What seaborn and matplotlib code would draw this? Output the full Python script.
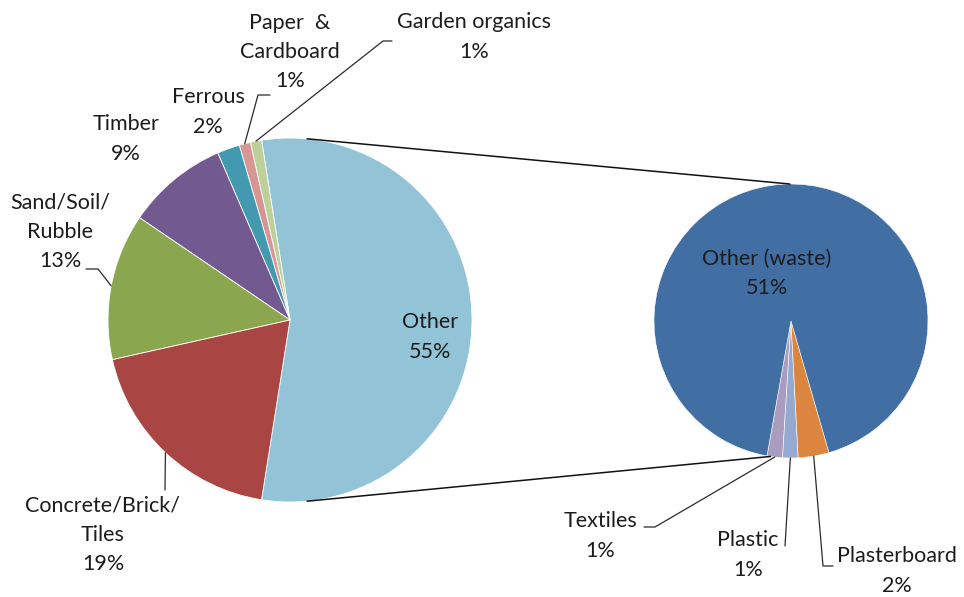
import numpy as np
import matplotlib
matplotlib.use("Agg")
import matplotlib.pyplot as plt
import seaborn as sns

sns.set_theme(style="white")
plt.rcParams["font.family"] = ["Lato", "DejaVu Sans"]

# Main pie: composition of waste (%)
main_labels = ["Other", "Garden organics", "Paper  &\nCardboard", "Ferrous",
               "Timber", "Sand/Soil/\nRubble", "Concrete/Brick/\nTiles"]
main_values = [55, 1, 1, 2, 9, 13, 19]
main_colors = ["#93C3D6", "#BCD19A", "#D79594", "#4399B0",
               "#72598F", "#8AA64F", "#A94543"]

# Breakdown of "Other" (%)
sub_labels = ["Textiles", "Plastic", "Plasterboard", "Other (waste)"]
sub_values = [1, 1, 2, 51]
sub_colors = ["#A99CBE", "#94AAD0", "#DC853E", "#416FA4"]

W, H = 964, 597
fig = plt.figure(figsize=(W / 100, H / 100), dpi=100)
ax = fig.add_axes([0, 0, 1, 1])


def P(x, y):
    """Pixel position (from the top-left corner) to data coordinates."""
    return x, H - y


TXT = "#1c1c1c"
FS = 15.5
LS = 1.58

# ---- main pie -------------------------------------------------------------
c1 = np.array(P(290, 320))
r1 = 182
start1 = -main_values[0] / sum(main_values) * 180
w1, _ = ax.pie(main_values, colors=main_colors, startangle=start1,
               counterclock=True, center=tuple(c1), radius=r1,
               wedgeprops=dict(edgecolor="white", linewidth=0.6))

# ---- secondary pie ----------------------------------------------------------
c2 = np.array(P(791, 321))
r2 = 137
small = sum(sub_values[:-1]) / sum(sub_values) * 360
start2 = 273 - small / 2
w2, _ = ax.pie(sub_values, colors=sub_colors, startangle=start2,
               counterclock=True, center=tuple(c2), radius=r2,
               wedgeprops=dict(edgecolor="white", linewidth=0.4))


def edge(c, r, ang):
    a = np.deg2rad(ang)
    return c + r * np.array([np.cos(a), np.sin(a)])


def mid(w):
    return (w.theta1 + w.theta2) / 2


# connector lines between the two pies
top_a = edge(c1, r1, 84.6)
top_b = edge(c2, r2, 90.5)
bot_a = edge(c1, r1, -84.6)
bot_b = edge(c2, r2, w2[0].theta1 + 1.5)
for a, b in [(top_a, top_b), (bot_a, bot_b)]:
    ax.plot([a[0], b[0]], [a[1], b[1]], color="#111111", lw=1.1,
            solid_capstyle="round")

# ---- labels ---------------------------------------------------------------
def label(text, x, y):
    ax.text(*P(x, y), text, ha="center", va="center", fontsize=FS,
            color=TXT, linespacing=LS)


def leader(wedge, c, r, pts):
    p0 = edge(c, r, mid(wedge))
    xs = [p0[0]] + [P(*q)[0] for q in pts]
    ys = [p0[1]] + [P(*q)[1] for q in pts]
    ax.plot(xs, ys, color="#2a2a2a", lw=0.9)


def pct(v):
    return f"{v}%"


# main pie labels
label(f"{main_labels[0]}\n{pct(main_values[0])}", 430, 337)
label(f"{main_labels[1]}\n{pct(main_values[1])}", 474, 37)
label(f"{main_labels[2]}\n{pct(main_values[2])}", 290, 52)
label(f"{main_labels[3]}\n{pct(main_values[3])}", 208, 112)
label(f"{main_labels[4]}\n{pct(main_values[4])}", 126, 139)
label(f"{main_labels[5]}\n{pct(main_values[5])}", 60, 232)
label(f"{main_labels[6]}\n{pct(main_values[6])}", 103, 535)

leader(w1[1], c1, r1, [(383, 41), (392, 41)])
leader(w1[2], c1, r1, [(258, 95), (270, 95)])
leader(w1[5], c1, r1, [(98, 269), (86, 269)])
leader(w1[6], c1, r1, [(165, 490)])

# secondary pie labels
label(f"{sub_labels[3]}\n{pct(sub_values[3])}", 767, 273)
label(f"{sub_labels[0]}\n{pct(sub_values[0])}", 600, 536)
label(f"{sub_labels[1]}\n{pct(sub_values[1])}", 748, 555)
label(f"{sub_labels[2]}\n{pct(sub_values[2])}", 897, 571)

leader(w2[0], c2, r2, [(655, 527), (644, 527)])
leader(w2[1], c2, r2, [(785, 546)])
leader(w2[2], c2, r2, [(823, 566), (833, 566)])

ax.set_xlim(0, W)
ax.set_ylim(0, H)
ax.set_aspect("equal")
ax.axis("off")

fig.savefig("out.png", dpi=100, facecolor="white")
